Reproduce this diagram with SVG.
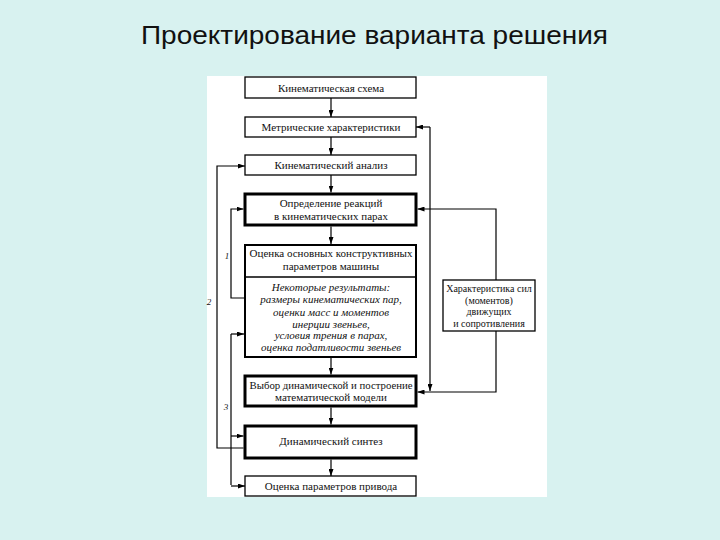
<svg xmlns="http://www.w3.org/2000/svg" width="720" height="540" viewBox="0 0 720 540">
<defs>
<marker id="ah" markerWidth="7" markerHeight="5" refX="7" refY="2.5" orient="auto" markerUnits="userSpaceOnUse">
<path d="M0,0 L7,2.5 L0,5 Z" fill="#000"/>
</marker>
<style>
.bx{fill:#fff;stroke:#000;stroke-width:1.3}
.thick{stroke-width:3}
.mid{stroke-width:2}
.t{font-family:"Liberation Serif","Times New Roman",serif;font-size:11px;fill:#111;text-anchor:middle}
.s{font-size:10px}
.it{font-style:italic}
.lbl{font-family:"Liberation Serif","Times New Roman",serif;font-size:9px;font-style:italic;fill:#111;text-anchor:middle}
.c{fill:none;stroke:#000;stroke-width:1.2}
.ca{fill:none;stroke:#000;stroke-width:1.2;marker-end:url(#ah)}
</style>
</defs>
<rect width="720" height="540" fill="#d8f2f0"/>
<text x="374.5" y="44" font-family="'Liberation Sans',Arial,sans-serif" font-size="26" fill="#111" text-anchor="middle" textLength="467" lengthAdjust="spacingAndGlyphs">Проектирование варианта решения</text>
<rect x="207" y="76" width="340" height="421" fill="#fff"/>

<g id="connectors">
<line class="ca" x1="331" y1="98" x2="331" y2="117"/>
<line class="ca" x1="331" y1="137" x2="331" y2="155"/>
<line class="ca" x1="331" y1="175" x2="331" y2="192.5"/>
<line class="ca" x1="331" y1="226.5" x2="331" y2="244"/>
<line class="ca" x1="331" y1="358" x2="331" y2="374.5"/>
<line class="ca" x1="331" y1="407.5" x2="331" y2="424.5"/>
<line class="ca" x1="331" y1="459.5" x2="331" y2="476"/>
<path class="ca" d="M243.5,448 H217 V166 H245"/>
<path class="ca" d="M245,298 H231 V209 H243.5"/>
<path class="ca" d="M231,334 H244"/>
<path class="c" d="M231,334 V485"/>
<path class="ca" d="M231,436 H243.5"/>
<path class="ca" d="M231,486 H245"/>
<path class="ca" d="M430,127 H416"/>
<path class="ca" d="M430,127 V391"/>
<path class="ca" d="M496,280 V209 H417.5"/>
<path class="ca" d="M496,331 V392 H417.5"/>
<text class="lbl" x="227" y="259">1</text>
<text class="lbl" x="209" y="305">2</text>
<text class="lbl" x="226" y="410">3</text>
</g>

<g id="n1"><rect class="bx" x="245" y="77" width="171" height="21"/><text class="t" x="331" y="91.5">Кинематическая схема</text></g>
<g id="n2"><rect class="bx" x="245" y="117" width="171" height="20"/><text class="t" x="331" y="131">Метрические характеристики</text></g>
<g id="n3"><rect class="bx" x="245" y="155" width="171" height="20"/><text class="t" x="331" y="169">Кинематический анализ</text></g>
<g id="n4"><rect class="bx thick" x="245" y="194" width="171" height="31"/><text class="t" x="331" y="207">Определение реакций</text><text class="t" x="331" y="220">в кинематических парах</text></g>
<g id="n5"><rect class="bx mid" x="245" y="245" width="171" height="112"/><line x1="245" y1="277" x2="416" y2="277" stroke="#000" stroke-width="1.3"/>
<text class="t" x="331" y="257">Оценка основных конструктивных</text>
<text class="t" x="331" y="270">параметров машины</text>
<text class="t it" x="331" y="291">Некоторые результаты:</text>
<text class="t it" x="331" y="303">размеры кинематических пар,</text>
<text class="t it" x="331" y="315.5">оценки масс и моментов</text>
<text class="t it" x="331" y="327.5">инерции звеньев,</text>
<text class="t it" x="331" y="339">условия трения в парах,</text>
<text class="t it" x="331" y="351">оценка податливости звеньев</text></g>
<g id="n6"><rect class="bx thick" x="245" y="376" width="171" height="30"/><text class="t" x="331" y="389" textLength="163" lengthAdjust="spacingAndGlyphs">Выбор динамической и построение</text><text class="t" x="331" y="401">математической модели</text></g>
<g id="n7"><rect class="bx thick" x="245" y="426" width="171" height="32"/><text class="t" x="331" y="445">Динамический синтез</text></g>
<g id="n8"><rect class="bx" x="245" y="476" width="171" height="20"/><text class="t" x="331" y="490">Оценка параметров привода</text></g>
<g id="n9"><rect class="bx" x="443" y="280" width="92" height="51"/>
<text class="t s" x="489" y="292">Характеристика сил</text>
<text class="t s" x="489" y="303.5">(моментов)</text>
<text class="t s" x="489" y="315">движущих</text>
<text class="t s" x="489" y="326.5">и  сопротивления</text></g>
</svg>
